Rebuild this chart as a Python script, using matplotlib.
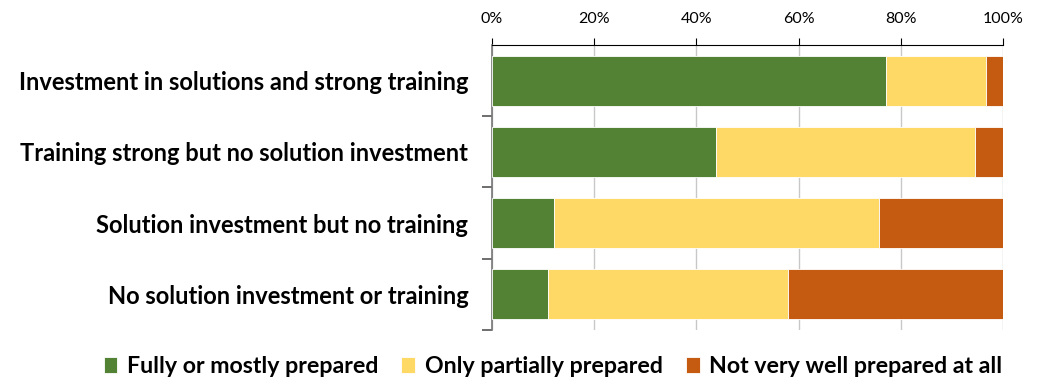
import matplotlib.pyplot as plt
from matplotlib.ticker import PercentFormatter

# Datos de preparación por grupo (en %)
grupos = ["Investment in solutions and strong training",
          "Training strong but no solution investment",
          "Solution investment but no training",
          "No solution investment or training"]
completo = [77.1, 43.8, 12.2, 10.9]
parcial = [19.6, 50.8, 63.5, 47.0]
nada = [3.3, 5.4, 24.3, 42.1]

series = ["Fully or mostly prepared", "Only partially prepared", "Not very well prepared at all"]
colores = ["#548235", "#FFD966", "#C55A11"]

plt.rcParams['font.family'] = ['Lato', 'DejaVu Sans']

fig = plt.figure(figsize=(10.39, 3.79), dpi=100)
ax = fig.add_axes([0.4735, 0.1293, 0.4918, 0.752])

y = list(range(len(grupos)))
izq = [0] * len(grupos)
for vals, nombre, c in zip([completo, parcial, nada], series, colores):
    ax.barh(y, vals, left=izq, height=0.7, color=c, label=nombre,
            edgecolor='white', linewidth=0.6, zorder=3)
    izq = [a + b for a, b in zip(izq, vals)]

ax.set_xlim(0, 100)
ax.set_ylim(len(grupos) - 0.5, -0.5)
ax.set_xticks([0, 20, 40, 60, 80, 100])
ax.xaxis.set_major_formatter(PercentFormatter(decimals=0))
ax.xaxis.tick_top()
ax.tick_params(axis='x', labelsize=11.5, length=5, color='black', pad=9)
ax.grid(axis='x', color='#c8c8c8', linewidth=1, zorder=0)

# etiquetas de categoría sin marca, marcas en los límites
ax.set_yticks(y)
ax.set_yticklabels(grupos, fontsize=17, fontweight='bold')
ax.tick_params(axis='y', length=0, pad=17)
ax.set_yticks([0.5, 1.5, 2.5, 3.5], minor=True)
ax.tick_params(axis='y', which='minor', length=7, color='#555555', width=1.2)

for s in ['right', 'bottom']:
    ax.spines[s].set_visible(False)
ax.spines['top'].set_color('black')
ax.spines['left'].set_color('#777777')
ax.spines['left'].set_linewidth(1.2)

fig.legend(loc='lower center', bbox_to_anchor=(0.532, -0.05), ncol=3, frameon=False,
           prop={'size': 16.7, 'weight': 'bold'}, handlelength=0.6, handleheight=0.7,
           handletextpad=0.4, columnspacing=1.0)

fig.savefig("out.png", dpi=100)
